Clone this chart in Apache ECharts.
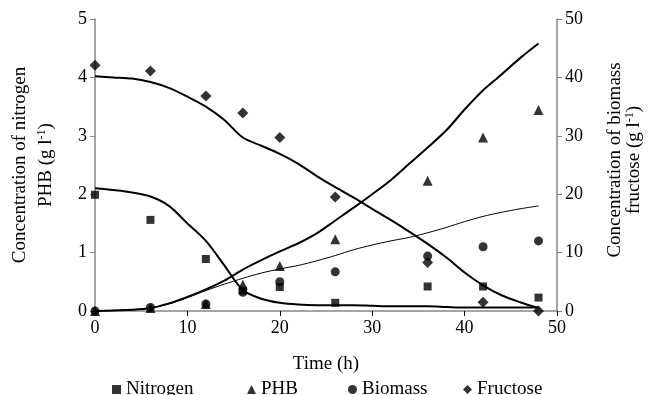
<!DOCTYPE html>
<html>
<head>
<meta charset="utf-8">
<script src="https://cdn.jsdelivr.net/npm/echarts@6/dist/echarts.min.js"></script>
<style>
  html, body { margin: 0; padding: 0; background: #fff; }
  #chart { width: 649px; height: 395px; }
</style>
</head>
<body>
<div id="chart"></div>
<script>
// measured sample times (h)
const sampleTimes = [0, 6, 12, 16, 20, 26, 36, 42, 48]
const nitrogenObs = [1.99, 1.56, 0.89, 0.35, 0.41, 0.14, 0.42, 0.42, 0.23]
const phbObs = [0, 0.05, 0.12, 0.45, 0.77, 1.23, 2.23, 2.97, 3.44]
const biomassObs = [0, 0.6, 1.2, 3.2, 5.0, 6.7, 9.4, 11.0, 12.0]
const fructoseObs = [42.1, 41.1, 36.8, 33.9, 29.7, 19.5, 8.3, 1.5, 0]

// model curves
const modelTimes = [0, 2, 4, 6, 8, 10, 12, 14, 16, 18, 20, 22, 24, 26, 28, 30, 32, 34, 36, 38, 40, 42, 44, 46, 48]
const nitrogenModel = [2.1, 2.07, 2.03, 1.96, 1.8, 1.5, 1.2, 0.78, 0.36, 0.21, 0.14, 0.11, 0.1, 0.1, 0.1, 0.09, 0.08, 0.08, 0.08, 0.07, 0.06, 0.06, 0.06, 0.06, 0.06]
const phbModel = [0, 0.01, 0.02, 0.05, 0.13, 0.24, 0.37, 0.52, 0.71, 0.87, 1.02, 1.16, 1.33, 1.55, 1.77, 2.0, 2.24, 2.52, 2.8, 3.09, 3.45, 3.78, 4.05, 4.33, 4.58]
const biomassModel = [0, 0.1, 0.2, 0.5, 1.2, 2.3, 3.5, 4.6, 5.6, 6.5, 7.2, 7.8, 8.6, 9.5, 10.5, 11.3, 12.0, 12.6, 13.4, 14.3, 15.3, 16.2, 16.9, 17.5, 18.0]
const fructoseModel = [40.2, 40.0, 39.8, 39.2, 38.2, 36.7, 35.0, 32.7, 29.7, 28.3, 26.9, 25.2, 23.1, 21.2, 19.4, 17.5, 15.6, 13.6, 11.5, 9.2, 6.6, 4.4, 2.7, 1.5, 0.5]

const leftTicks = [0, 1, 2, 3, 4, 5]
const rightTicks = [0, 10, 20, 30, 40, 50]

const font = '"Liberation Serif", "Times New Roman", serif'
const axisGray = '#868686'

function pairs(xs, ys) {
  return xs.map((x, i) => [x, ys[i]])
}

const chart = echarts.init(document.getElementById('chart'))

function lineSeries(name, ys, yAxisIndex, width) {
  return {
    name,
    type: 'line',
    yAxisIndex,
    data: pairs(modelTimes, ys),
    symbol: 'none',
    smooth: 0.3,
    lineStyle: { color: '#000', width },
    silent: true,
    z: 2,
  }
}

function scatterSeries(name, ys, yAxisIndex, symbol, size) {
  return {
    name,
    type: 'scatter',
    yAxisIndex,
    data: pairs(sampleTimes, ys),
    symbol,
    symbolSize: size,
    itemStyle: { color: '#000' },
    z: 3,
  }
}

function legendAt(name, left) {
  return {
    data: [{ name }],
    left,
    top: 380,
    padding: 0,
    itemWidth: 9,
    itemHeight: 9,
    itemGap: 0,
    textStyle: { fontFamily: font, fontSize: 19, color: '#000' },
    selectedMode: false,
  }
}

const superRich = {
  n: { fontFamily: font, fontSize: 19, color: '#000' },
  s: { fontFamily: font, fontSize: 12, color: '#000', verticalAlign: 'top', padding: [0, 0, 8, 0] },
}

function titleText(x, y, txt) {
  return {
    type: 'text',
    x,
    y,
    rotation: Math.PI / 2,
    style: {
      text: txt,
      rich: superRich,
      fontFamily: font,
      fontSize: 19,
      fill: '#000',
      align: 'center',
      verticalAlign: 'middle',
    },
  }
}

chart.setOption({
  animation: false,
  backgroundColor: '#fff',
  grid: { left: 95, right: 92, top: 19, bottom: 84 },
  legend: [
    legendAt('Nitrogen', 112),
    legendAt('PHB', 247),
    legendAt('Biomass', 348),
    legendAt('Fructose', 463),
  ],
  xAxis: {
    type: 'value',
    min: 0,
    max: 50,
    interval: 10,
    name: 'Time (h)',
    nameLocation: 'middle',
    nameGap: 44,
    nameTextStyle: { fontFamily: font, fontSize: 19, color: '#000' },
    axisLine: { lineStyle: { color: axisGray, width: 1.5 } },
    axisTick: { inside: false, length: 5, lineStyle: { color: '#000' } },
    axisLabel: { fontFamily: font, fontSize: 18, color: '#000', margin: 8 },
    splitLine: { show: false },
  },
  yAxis: [
    {
      type: 'value',
      min: 0,
      max: 5,
      interval: 1,
      position: 'left',
      axisLine: { show: true, lineStyle: { color: axisGray, width: 1.5 } },
      axisTick: { show: true, length: 5, lineStyle: { color: axisGray } },
      axisLabel: {
        fontFamily: font, fontSize: 18, color: '#000', margin: 8,
        formatter: v => (leftTicks.includes(v) ? String(v) : ''),
      },
      splitLine: { show: false },
    },
    {
      type: 'value',
      min: 0,
      max: 50,
      interval: 10,
      position: 'right',
      axisLine: { show: true, lineStyle: { color: axisGray, width: 1.5 } },
      axisTick: { show: true, length: 5, lineStyle: { color: axisGray } },
      axisLabel: {
        fontFamily: font, fontSize: 18, color: '#000', margin: 8,
        formatter: v => (rightTicks.includes(v) ? String(v) : ''),
      },
      splitLine: { show: false },
    },
  ],
  graphic: [
    titleText(20, 165, 'Concentration of nitrogen'),
    titleText(46, 165, '{n|PHB (g l}{s|-1}{n|)}'),
    titleText(615, 160, 'Concentration of biomass'),
    titleText(634, 160, '{n|fructose (g l}{s|-1}{n|)}'),
  ],
  series: [
    lineSeries('Nitrogen model', nitrogenModel, 0, 2),
    lineSeries('PHB model', phbModel, 0, 2),
    lineSeries('Biomass model', biomassModel, 1, 1),
    lineSeries('Fructose model', fructoseModel, 1, 2),
    scatterSeries('Nitrogen', nitrogenObs, 0, 'rect', 8),
    scatterSeries('PHB', phbObs, 0, 'triangle', 10),
    scatterSeries('Biomass', biomassObs, 1, 'circle', 9),
    scatterSeries('Fructose', fructoseObs, 1, 'diamond', 11),
  ],
})
</script>
</body>
</html>
